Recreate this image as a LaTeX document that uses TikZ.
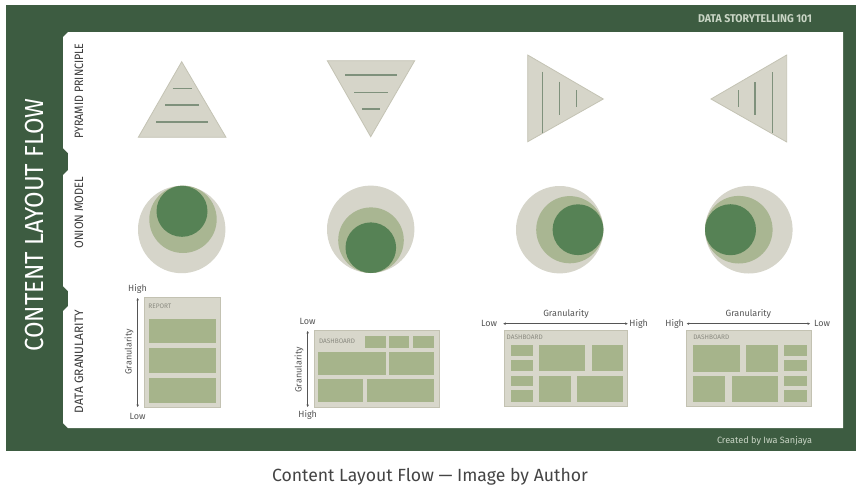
\documentclass[tikz,border=0pt]{standalone}
\usepackage{fontspec}
\setmainfont{Fira Sans}
\usetikzlibrary{arrows.meta}
\definecolor{framegreen}{HTML}{3D5C41}
\definecolor{rowtext}{HTML}{3A3A3A}
\definecolor{brandtext}{HTML}{C9D5C5}
\definecolor{trifill}{HTML}{D6D5C9}
\definecolor{tristroke}{HTML}{C4C3B4}
\definecolor{triline}{HTML}{7F917C}
\definecolor{onionA}{HTML}{D6D5CA}
\definecolor{onionB}{HTML}{A9B692}
\definecolor{onionC}{HTML}{568255}
\definecolor{panelfill}{HTML}{D8D7CB}
\definecolor{panelstroke}{HTML}{C3C2B2}
\definecolor{blkfill}{HTML}{A6B48B}
\definecolor{axisgray}{HTML}{555555}
\definecolor{capgray}{HTML}{444444}
\definecolor{dashlbl}{HTML}{8A8A80}
\tikzset{
  txt/.style={inner sep=0pt, outer sep=0pt},
  tri/.style={fill=trifill, draw=tristroke, line width=0.8pt, line join=miter},
  tline/.style={draw=triline, line width=1.2pt},
  ringA/.style={fill=onionA},
  ringB/.style={fill=onionB},
  ringC/.style={fill=onionC},
  panel/.style={fill=panelfill, draw=panelstroke, line width=0.8pt},
  blk/.style={fill=blkfill},
  garrow/.style={draw=axisgray, line width=0.6pt, {Stealth[length=2.5pt,width=2.5pt]}-{Stealth[length=2.5pt,width=2.5pt]}},
  axlbl/.style={txt, text=axisgray, font=\fontsize{9}{10}\selectfont},
  dlbl/.style={txt, text=dashlbl, anchor=west},
}
\begin{document}
\begin{tikzpicture}[x=1pt,y=-1pt]
\useasboundingbox (0,0) rectangle (860,493);
\fill[white] (0,0) rectangle (860,493);
% frame
\fill[framegreen] (6,5) rectangle (856,451);
\fill[white] (68,32) -- (843,32) -- (843,428) -- (68,428) -- (63,423) -- (63,311)
  -- (68,306) -- (68,291) -- (63,286) -- (63,175) -- (68,170) -- (68,153) -- (63,148)
  -- (63,37) -- cycle;
% titles
\node[txt, rotate=90, text=white] (title) at (34.3,225) {\resizebox{253pt}{18.3pt}{CONTENT LAYOUT FLOW}};
\node[txt, rotate=90, text=rowtext] (lab1) at (79,90.8) {\resizebox{95pt}{8.5pt}{PYRAMID PRINCIPLE}};
\node[txt, rotate=90, text=rowtext] (lab2) at (79,212.5) {\resizebox{71.6pt}{8.5pt}{ONION MODEL}};
\node[txt, rotate=90, text=rowtext] (lab3) at (79,361.5) {\resizebox{103pt}{8.5pt}{DATA GRANULARITY}};
\node[txt, text=brandtext] (brand) at (755,19) {\resizebox{114pt}{8pt}{\bfseries DATA STORYTELLING 101}};
\node[txt, text=brandtext] (credit) at (764.5,441) {\resizebox{95pt}{!}{Created by Iwa Sanjaya}};
\node[txt, text=capgray] (caption) at (430,477) {\resizebox{316pt}{!}{Content Layout Flow — Image by Author}};
% pyramids
\filldraw[tri] (181.7,61.7) -- (226,137.3) -- (138.3,137.3) -- cycle;
\draw[tline] (172.7,88.3) -- (191.7,88.3);
\draw[tline] (165,105) -- (199,105);
\draw[tline] (156,122) -- (208,122);
\filldraw[tri] (327.3,60.7) -- (414.7,60.7) -- (370.7,136.7) -- cycle;
\draw[tline] (345,75) -- (397,75);
\draw[tline] (354,92.3) -- (388,92.3);
\draw[tline] (362,109) -- (380,109);
\filldraw[tri] (527.7,55) -- (603.3,99) -- (527.7,141.7) -- cycle;
\draw[tline] (542.3,71.7) -- (542.3,133.3);
\draw[tline] (559.3,81.7) -- (559.3,115);
\draw[tline] (576.7,90) -- (576.7,106.7);
\filldraw[tri] (786.7,55) -- (711,99) -- (786.7,142) -- cycle;
\draw[tline] (772.3,72) -- (772.3,133);
\draw[tline] (755,82) -- (755,115);
\draw[tline] (738.3,90) -- (738.3,107);
% onions
\fill[ringA] (181.7,229.5) circle[radius=43.7];
\fill[ringB] (183,219.3) circle[radius=33.7];
\fill[ringC] (182,211.3) circle[radius=25.5];
\fill[ringA] (370.7,229.3) circle[radius=43.7];
\fill[ringB] (371,240.2) circle[radius=32.8];
\fill[ringC] (370.8,247.7) circle[radius=25.3];
\fill[ringA] (559.7,229.7) circle[radius=43.7];
\fill[ringB] (569.8,229.7) circle[radius=33.6];
\fill[ringC] (578,229.7) circle[radius=25.4];
\fill[ringA] (748.8,229.7) circle[radius=43.8];
\fill[ringB] (738.8,229.7) circle[radius=33.8];
\fill[ringC] (730.5,229.7) circle[radius=25.5];
% report
\filldraw[panel] (144,297.3) rectangle (220,407.3);
\fill[blk] (149,319) rectangle (215.7,343.3);
\fill[blk] (149,348.3) rectangle (215.7,373.3);
\fill[blk] (149,377.7) rectangle (215.7,403.3);
\node[dlbl] (rep) at (148.3,306) {\resizebox{23pt}{!}{REPORT}};
\coordinate (r1t) at (137.7,298);
\coordinate (r1b) at (137.7,407);
\draw[garrow] (r1t) -- (r1b);
\node[axlbl] (r1hi) at (137.5,288.5) {High};
\node[axlbl] (r1lo) at (137.5,416) {Low};
\node[axlbl, rotate=90] (r1g) at (129,352) {Granularity};
% dashboard 1
\filldraw[panel] (314.3,330.7) rectangle (439,407.3);
\node[dlbl] (d1l) at (319,341.7) {\resizebox{36pt}{!}{DASHBOARD}};
\fill[blk] (365,336) rectangle (385.7,347.7);
\fill[blk] (389.3,336) rectangle (409.3,347.7);
\fill[blk] (413.3,336) rectangle (434,347.7);
\fill[blk] (318.3,352.3) rectangle (385.7,375);
\fill[blk] (389.3,352.3) rectangle (434,375);
\fill[blk] (318.3,379) rectangle (363.3,401.7);
\fill[blk] (367.3,379) rectangle (434,401.7);
\coordinate (d1t) at (307.7,331);
\coordinate (d1b) at (307.7,407);
\draw[garrow] (d1t) -- (d1b);
\node[axlbl] (d1lo) at (307.5,321.7) {Low};
\node[axlbl] (d1hi) at (307.7,415) {High};
\node[axlbl, rotate=90] (d1g) at (299,370) {Granularity};
% dashboard 2
\filldraw[panel] (504,330.7) rectangle (627.7,406.7);
\node[dlbl] (d2l) at (506.7,337.3) {\resizebox{36pt}{!}{DASHBOARD}};
\fill[blk] (511,345) rectangle (532.7,356);
\fill[blk] (511,360) rectangle (532.7,371);
\fill[blk] (511,375.7) rectangle (532.7,386);
\fill[blk] (511,390) rectangle (532.7,401.7);
\fill[blk] (539,345) rectangle (585,371);
\fill[blk] (591.7,345) rectangle (623.3,371);
\fill[blk] (539,375.7) rectangle (571,401.7);
\fill[blk] (577,375.7) rectangle (623.3,401.7);
\coordinate (d2l0) at (503.3,323.7);
\coordinate (d2r0) at (627.7,323.7);
\draw[garrow] (d2l0) -- (d2r0);
\node[axlbl] (d2lo) at (489,323.7) {Low};
\node[axlbl] (d2hi) at (638.7,323.7) {High};
\node[axlbl] (d2g) at (566,314) {Granularity};
% dashboard 3
\filldraw[panel] (686.7,330.7) rectangle (811.7,406.7);
\node[dlbl] (d3l) at (693.3,337.3) {\resizebox{36pt}{!}{DASHBOARD}};
\fill[blk] (693.3,345) rectangle (740,371.7);
\fill[blk] (746,345) rectangle (777.7,371.7);
\fill[blk] (784,345) rectangle (806.7,356);
\fill[blk] (784,360) rectangle (806.7,371);
\fill[blk] (784,375.7) rectangle (806.7,386);
\fill[blk] (784,390) rectangle (806.7,401.7);
\fill[blk] (693.3,375.7) rectangle (725,401.7);
\fill[blk] (731.7,375.7) rectangle (777.7,401.7);
\coordinate (d3l0) at (686.7,323.7);
\coordinate (d3r0) at (810,323.7);
\draw[garrow] (d3l0) -- (d3r0);
\node[axlbl] (d3hi) at (674.7,323.7) {High};
\node[axlbl] (d3lo) at (822,323.7) {Low};
\node[axlbl] (d3g) at (748.3,314) {Granularity};
\end{tikzpicture}
\end{document}
